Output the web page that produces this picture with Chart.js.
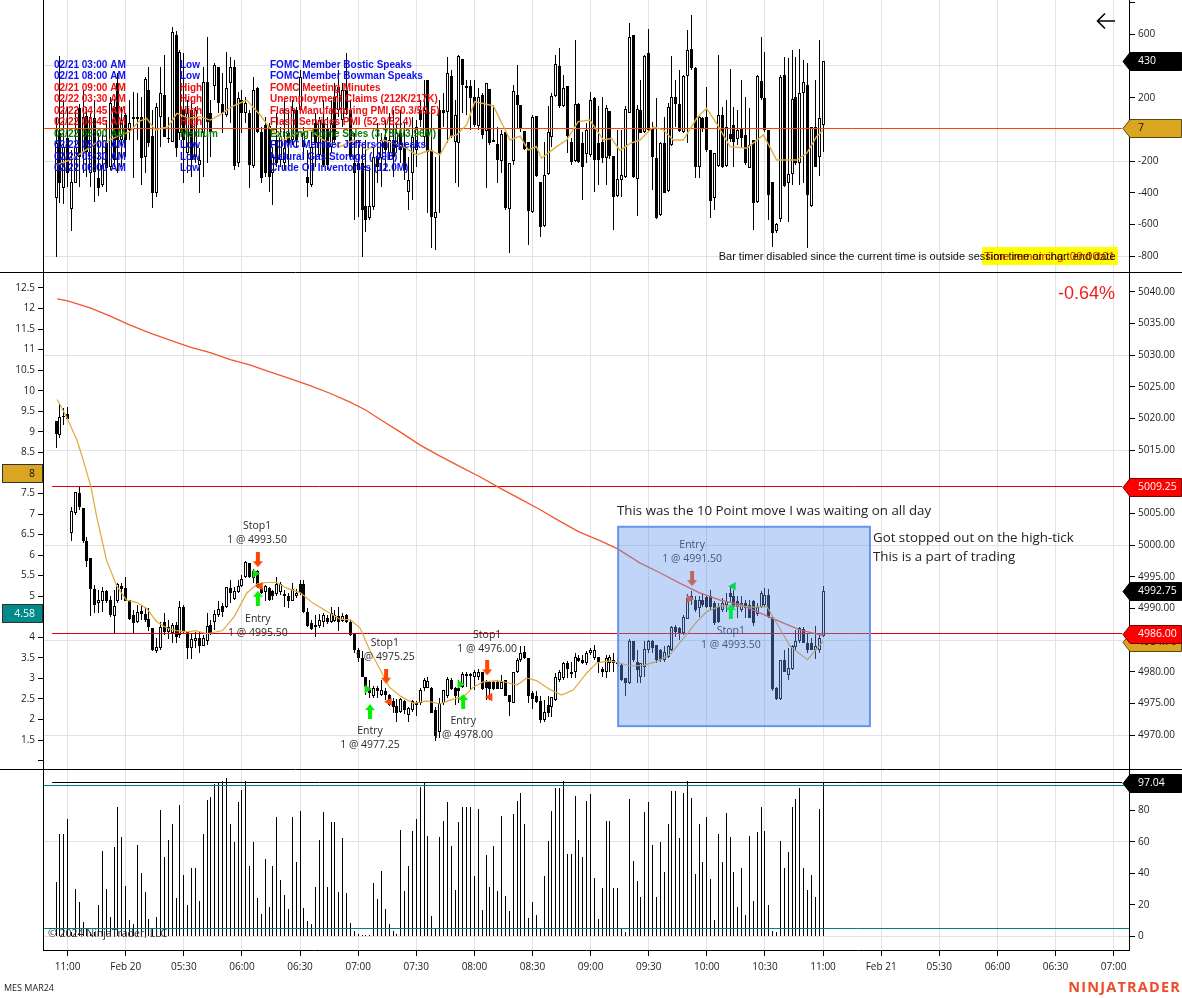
<!DOCTYPE html>
<html><head><meta charset="utf-8"><title>MES MAR24</title>
<style>
html,body{margin:0;padding:0;background:#fff;overflow:hidden}
canvas{position:absolute;left:0;display:block}
</style>
<script src="https://cdn.jsdelivr.net/npm/chart.js@4/dist/chart.umd.min.js"></script>
</head><body>
<canvas id="top" width="1182" height="273" style="top:0"></canvas>
<canvas id="mid" width="1182" height="497" style="top:273px"></canvas>
<canvas id="bot" width="1182" height="228" style="top:770px"></canvas>
<script>
const tickLabels=['11:00','Feb 20','05:30','06:00','06:30','07:00','07:30','08:00','08:30','09:00','09:30','10:00','10:30','11:00','Feb 21','05:30','06:00','06:30','07:00'];
const firstTickBar=3, barsPerTick=15;

const topOpen=[-435,-25,-372,-56,-502,-336,133,-140,84,-277,70,-309,-351,-88,-235,143,291,-67,91,-4,
80,80,80,-172,248,-42,-403,80,217,-52,-77,595,-25,122,-151,122,-172,-225,-25,297,
101,274,396,158,91,291,396,-214,185,101,101,-231,259,-14,28,21,-277,-67,-193,-214,
-25,-67,122,122,-109,-298,-351,38,-161,38,7,-109,206,122,59,248,122,-214,-214,-214,
-483,-561,-487,-172,-182,-46,-151,-67,-109,-25,-109,-393,-277,-130,122,-46,312,-130,-561,122,
122,112,337,-77,-84,442,274,274,202,21,217,-8,253,-67,-94,-197,-14,-504,-197,217,
154,-8,-77,-523,84,-334,-609,-281,-46,211,400,148,274,-77,-197,160,-88,-155,-161,196,
-84,-77,-182,116,-168,-420,-319,-298,105,595,-315,122,-14,480,7,-182,-540,-88,-386,-98,
202,160,-14,337,505,385,-239,70,80,-130,-435,-231,91,-231,-31,28,-63,7,-35,-241,
-67,-456,307,196,-4,-330,-639,-567,343,-340,-281,202,-214,227,280,-481,13,-172,28];
const topHigh=[80,463,185,143,-130,122,160,248,143,101,185,-25,-35,59,206,185,354,143,101,185,
238,227,206,328,396,122,164,396,469,80,644,623,501,480,185,185,143,-119,396,581,
185,417,396,354,490,459,438,238,248,206,122,333,270,17,80,38,-109,101,17,185,
122,185,143,375,17,-130,-4,101,80,185,80,185,291,375,291,480,185,-25,-67,-88,
-67,-235,-109,38,-25,59,101,122,38,122,38,-172,80,59,185,312,312,143,-172,185,
227,459,375,185,469,442,312,312,312,259,232,291,253,154,17,-4,-14,-214,280,406,
154,-8,-77,91,84,-334,-77,148,227,469,511,343,274,-56,564,164,-14,38,238,206,
148,206,154,116,-168,-4,-4,148,673,595,154,312,469,631,49,196,-77,80,164,463,
312,375,343,627,721,396,91,80,270,-130,-147,469,143,185,379,143,122,312,206,133,
-67,343,581,490,-4,-330,-592,343,459,448,501,459,505,438,417,17,312,564,430];
const topLow=[-807,-466,-470,-361,-639,-340,-361,-277,-298,-361,-460,-418,-361,-393,-256,-235,-277,-235,-172,-67,
-309,-67,-351,-277,-109,-498,-424,-109,-50,-88,-77,-172,-67,-340,-277,-298,-214,-403,-298,-214,
-172,185,101,-25,80,38,-256,-235,-25,38,-372,-246,-25,-340,-298,-393,-477,-235,-235,-256,
-235,-98,-109,101,-193,-424,-361,-235,-193,-235,-256,-151,-88,80,17,91,-193,-571,-550,-807,
-649,-571,-508,-340,-361,-256,-193,-298,-151,-214,-319,-508,-445,-235,17,-109,-529,-750,-761,-529,
17,-88,-56,-340,-361,101,91,-4,17,-4,-63,-372,-98,-77,-340,-273,-508,-777,-225,7,
-14,-130,-729,-529,-298,-676,-613,-288,-109,206,133,139,-151,-225,-203,-214,-445,-214,-172,-393,
-351,-214,-351,-189,-634,-424,-424,-309,101,-309,-546,-25,-25,-14,-382,-567,-546,-403,-393,-105,
17,-14,-25,-88,375,-309,-309,-14,-140,-561,-508,-235,-246,-235,-77,-235,-98,-119,-225,-246,
-634,-462,185,-14,-571,-740,-651,-582,-361,-582,-351,-225,-351,-340,-750,-487,-239,-294,-140];
const topClose=[-88,-336,-109,-277,-330,-109,-172,80,-140,80,-267,-372,-225,-246,164,-193,-67,59,-67,38,
63,63,-182,318,-88,-403,143,227,-46,-63,612,-119,490,-67,101,-193,122,-193,301,49,
-14,406,164,101,259,391,-229,196,101,164,-225,248,-14,-304,-277,-298,-172,-214,-46,-119,
-88,122,-67,333,-25,-340,-109,-88,59,-225,-225,38,-67,270,248,122,-172,-277,-256,-508,
-571,-483,-172,-235,-67,-130,-67,-172,-25,-130,-256,-319,-46,17,59,122,-140,-550,-519,-151,
106,354,-42,91,465,280,263,200,28,202,-35,291,-88,-77,-193,-29,-498,-214,244,154,
7,-126,-512,80,-294,-613,-288,-18,211,410,148,259,-42,-203,160,-203,-235,-4,185,-193,
-193,-182,133,-168,-424,-315,-288,126,581,-302,126,-21,463,-4,-172,-561,-88,-399,143,202,
160,-8,337,501,385,-239,80,7,-130,-449,-151,91,-235,17,-63,-77,-4,-56,-214,-98,
-462,337,196,-4,-414,-651,-597,328,-357,-281,192,-214,232,297,-414,17,-235,70,430];
const topSmaBars=[0,3.6,7.1,10.1,13.1,15.7,19.1,21.3,23.4,25.6,29,31.2,34.2,37.2,39.8,42.3,45.4,49.2,52.7,55.2,58.7,62.1,65.6,69,73.3,76.8,80.2,84.5,89.7,93.1,96.6,
99.1,101.7,103.4,106,108.1,112.9,117.2,119.8,121.9,124,125.3,129.2,131.8,134.8,137.8,141.3,143.4,145.6,148.2,150.7,154.2,156.8,159.3,161.9,165.4,167.9,170.5,174,178.3,182.6,186,189,191.2,193.8,196.3,198];
const topSmaValues=[-225,-193,-140,-88,-77,-46,-14,49,70,-4,17,101,70,80,59,91,143,185,91,7,-67,-25,-4,-67,-109,-67,-130,-67,-109,-161,-130,
-161,-46,-35,28,175,148,-67,-42,-130,-109,-182,-109,-67,49,59,-67,-56,-134,-88,-67,17,-4,-67,-67,70,133,38,-109,-119,-35,-193,-193,-193,-151,-46,-4];

const priceOpen=[5019.6,5017.4,5020.2,5020.7,5001.9,5005.1,5008.2,5005.8,5000.7,4997.9,
4993.1,4990.8,4991.2,4992.7,4991.3,4988.8,4991.2,4993.6,4993.2,4991.3,
4989,4987.8,4989.6,4989.1,4988.3,4986.9,4983.3,4983.7,4987.8,4986.3,
4986.1,4987.4,4985.8,4990.3,4986.3,4983.8,4984.8,4985.4,4984.1,4984.9,
4987.4,4987.8,4988.9,4990.4,4990.3,4993.3,4991.5,4992.6,4993.6,4994.9,
4997.2,4995.9,4995.9,4993.2,4992.6,4993.3,4992.7,4992.3,4992.6,4992.3,
4992,4991.2,4991.9,4993.9,4993.9,4989.5,4987.7,4987.4,4987.2,4987.8,
4988.5,4987.8,4988,4988.8,4988,4989,4987.8,4986.1,4983.5,4982.1,
4979.2,4977.5,4976.2,4977.4,4976.3,4977,4976.3,4975.3,4974.6,4973.6,
4975.3,4973.2,4974,4975,4975,4977.4,4977.5,4977.5,4974,4970.5,
4975,4976.1,4978.7,4977.4,4977.4,4977.6,4979.3,4979.4,4979.1,4979.2,
4980,4978.4,4978.3,4978.4,4978.4,4977.3,4978.7,4976.3,4975.1,4979.9,
4981.8,4983.1,4982.1,4976.6,4976.2,4975.4,4972.3,4974.7,4974.5,4975.5,
4978.7,4979,4981.4,4979.7,4980,4982.1,4981.9,4981.3,4983,4982.1,
4982.4,4980.4,4980,4981.3,4981.9,4981.6,4981.1,4979,4978.2,4984.8,
4981.6,4979.2,4980.8,4983.4,4984.8,4984.2,4983.4,4981.9,4982.4,4983.4,
4987,4986.9,4986.1,4988.4,4991.3,4991.4,4990,4991.3,4991.8,4992,
4990.8,4990.3,4989.8,4990.5,4992.4,4991.9,4991.1,4989.8,4990.8,4990.6,
4991.1,4989.1,4990.3,4990.5,4992.1,4988.6,4977.5,4975.7,4981.8,4979.5,
4980.4,4983.9,4984.8,4986.7,4984.6,4984.5,4983.5,4983.5,4985.7];
const priceHigh=[5019.6,5022.4,5021.6,5021.9,5006.1,5008.4,5009.4,5005.8,5001.3,4997.9,
4993.7,4992.9,4993.4,4992.9,4992,4992.9,4994,4994,4994.9,4991.3,
4989.8,4990.5,4990.5,4990.3,4990,4986.9,4985.3,4987.9,4989.2,4988.2,
4987.7,4987.9,4991.2,4990.5,4986.3,4986.1,4986.3,4986.3,4985.8,4989.3,
4988.2,4989.8,4991.1,4990.8,4993.4,4994.5,4993.4,4994.5,4995.3,4997.5,
4997.2,4996.3,4996.1,4993.4,4993.7,4993.4,4992.9,4995,4994.2,4992.9,
4992.4,4994,4993.1,4994.5,4994.5,4990,4988.2,4989,4989.1,4989.2,
4989,4990.2,4989.8,4990.3,4989.2,4989.1,4988.2,4986.1,4983.7,4983.2,
4979.2,4978.7,4977.7,4977.7,4978.7,4977.4,4976.5,4975.8,4975.7,4975.8,
4975.5,4974.5,4975.5,4975.3,4977.4,4979,4979.2,4977.6,4974.5,4975.8,
4977.1,4979.2,4979,4977.6,4978.7,4979.9,4980,4979.8,4980.3,4980.5,
4980,4978.7,4978.6,4978.6,4978.7,4979.5,4978.7,4976.3,4980,4982.1,
4984,4984.1,4982.1,4976.9,4976.9,4976.1,4975.6,4976.1,4976,4979.8,
4980.3,4981.6,4981.7,4981.6,4982.9,4982.7,4982.7,4983.2,4983.7,4984.2,
4982.4,4980.8,4982.7,4982.7,4982.9,4982.1,4981.3,4979,4985.1,4984.8,
4983.4,4981.4,4984.8,4985,4985,4984.2,4983.6,4984,4984.2,4987.2,
4987.4,4987.1,4989,4992.3,4992.8,4991.9,4991.9,4992.4,4992.1,4992.9,
4991.1,4990.8,4991.6,4992.4,4993.5,4992.9,4991.9,4991.9,4991.3,4991.3,
4991.4,4990.8,4992.8,4993.2,4993,4988.7,4977.6,4981.9,4983.4,4983.7,
4984.2,4986.6,4987.1,4987,4986.1,4985.3,4987.2,4985.8,4993.5];
const priceLow=[5015.4,5016.9,5019,5019.7,5000.6,5004.8,5005.6,5000.3,4996.6,4988.8,
4989.2,4989.3,4989.5,4990.8,4988.7,4986.1,4990.8,4991.4,4991.1,4988.2,
4986.1,4987.7,4988.2,4987.9,4986.5,4983.3,4982.9,4983.4,4985.8,4985.1,
4984.5,4984.5,4985.3,4986.1,4982,4982,4983.7,4983,4984,4984.2,
4985.8,4986.6,4988.7,4988.7,4990,4990.8,4991.3,4992.4,4993.4,4994.8,
4994.8,4994,4993.2,4992.3,4991.1,4991.1,4991.3,4991.9,4992.1,4990.2,
4990,4991.1,4991.6,4992.1,4989.2,4987,4986.6,4985.5,4986.9,4987.1,
4987.5,4987.7,4987.8,4986.5,4987.8,4987.7,4985.6,4982.9,4981.6,4979.1,
4976.3,4975.8,4975.8,4975.8,4976.1,4975.5,4974.6,4973.4,4972.1,4973.4,
4973.3,4972.1,4973.7,4973,4974.8,4976.9,4977.4,4973.4,4969.1,4969.5,
4974.8,4975.8,4977.1,4974.8,4975,4977.4,4977.6,4977.1,4977.1,4978.7,
4977.1,4975.6,4975.5,4977.1,4977.2,4977.2,4976.1,4973,4975,4979.8,
4981.6,4982,4975,4974.1,4975,4971.9,4972.1,4972.9,4972.9,4975.4,
4978.4,4978.7,4979,4979,4979,4981.6,4981.2,4981,4982.7,4981.9,
4979.8,4979.2,4979,4980,4980,4980.8,4978.6,4976.2,4978.1,4981.6,
4978.2,4978.2,4979.2,4982.9,4982.9,4981.3,4981.6,4981.6,4982.1,4983.3,
4985.5,4985,4985.8,4988.3,4990.6,4989.5,4988.7,4990.3,4990,4989.8,
4987.4,4987.7,4989.5,4989.5,4990.8,4990,4988.5,4989.5,4988.5,4988.5,
4987.2,4988.8,4990,4990.3,4988.5,4976.9,4975.6,4975.5,4980,4978.7,
4980.3,4983.4,4984.5,4984.5,4982.9,4983.4,4982,4982.9,4985.5];
const priceClose=[5017.6,5020.2,5020.4,5019.9,5005.4,5008.4,5006.1,5000.6,4997.5,4993.1,
4990.6,4991.3,4992.8,4991.2,4989,4990.4,4993.9,4993.1,4991.2,4988.4,
4987.7,4989.5,4989.1,4988.2,4987.1,4983.4,4983.9,4987,4986.3,4987,
4987.4,4985.5,4990.2,4986.3,4983.8,4985.1,4985.3,4984.1,4985.4,4987.2,
4986.1,4989.1,4989.9,4989.5,4993.4,4992.5,4992.8,4993.6,4994.6,4997.4,
4995,4994.8,4993.4,4992.5,4993.6,4991.4,4991.9,4993.9,4993.8,4991.9,
4991.2,4993.1,4992.5,4992.4,4989.5,4987.2,4986.7,4987.1,4988.2,4989,
4987.8,4989.3,4989,4987.9,4988.8,4987.9,4985.8,4983.4,4982.1,4979.2,
4977.6,4976.6,4977.4,4976.9,4977.1,4976.3,4974.8,4974.5,4973.5,4975.7,
4974,4974.2,4975.3,4974.8,4977.1,4978.7,4978.6,4973.5,4969.8,4975,
4977.1,4978.8,4977.2,4976.1,4976.9,4979.7,4979.7,4979.6,4980,4980,
4977.2,4977.4,4977.2,4977.3,4977.3,4978.4,4976.2,4975.2,4979.9,4981.8,
4982.9,4982.1,4976.1,4975.7,4975.2,4972.3,4973.7,4973.5,4976,4979.1,
4979.9,4981.4,4980.5,4980,4982.3,4981.7,4981.3,4983,4983.5,4983.5,
4981.3,4979.9,4982.1,4982.4,4981.3,4981.2,4978.7,4978.2,4984.9,4981.8,
4980.3,4981.4,4983.6,4984.8,4983.7,4981.9,4981.9,4983.1,4984,4987,
4986.3,4986.1,4988.7,4991.6,4992,4989.8,4991.3,4990.5,4990.3,4990.3,
4987.7,4987.9,4990.8,4991.1,4991.8,4990.3,4990.3,4990.8,4990,4988.5,
4987.7,4990.3,4992.4,4992.1,4988.7,4977.3,4975.7,4981.9,4980,4980.6,
4984,4984.9,4986.9,4984.6,4983.4,4983.5,4984,4985.3,4992.75];
const fastSmaBars=[0.3,2.7,5.4,7,9,10.5,13,15.7,18.2,21,23.4,26,28.6,31,34,36,39,43,46,49.2,52,54.4,57,59.6,63,66.4,70,73.3,76,78.5,81,83.7,86,89,92.3,95.7,
99,101.7,105.2,107.8,110.3,113.8,116.4,119,121.5,124,127.5,130.5,133.5,137,139.6,143,146,148.2,151.6,155,158.5,162,165.4,168,171.5,175.7,180,183.5,186,189.5,194,198];
const fastSmaValues=[5023,5020.3,5016.6,5013.5,5009.25,5004.5,4997.7,4993.5,4991.3,4990.9,4990,4987.9,4986.9,4986.5,4986.3,4986.5,4986,4986.5,4988.7,4992.4,4993.9,4994.1,4994.1,4993.2,4992.5,4990.8,4989.5,4988.3,4988.2,4986.9,4983.4,4980.3,4977.6,4976.1,4975,4975.4,
4974.9,4975.5,4976.1,4977.6,4978.4,4978.6,4978.3,4977.9,4979,4978.6,4977.2,4976.3,4977.1,4979.8,4981.4,4981.7,4981.3,4980.9,4981,4981.6,4982.7,4985.3,4987.9,4989.5,4990.4,4990.4,4990.2,4990.3,4987.7,4984,4981.9,4984.8];
const slowSmaBars=[0.3,3,8.8,14,19,24.3,29.4,34.6,39.8,45,50,55,60.4,65.6,70.7,75.9,79.8,83.6,88.8,94,99,104.3,109.4,114.6,119.8,125,130,135,140.4,145,150.7,156,161,166,171.4,176.6,181.7,186.9,192,198];
const slowSmaValues=[5038.9,5038.6,5037.5,5036.2,5034.8,5033.5,5032.4,5031.3,5030.4,5029.3,5028.5,5027.4,5026.3,5025.2,5024,5022.6,5021.4,5019.9,5017.9,5015.8,5014.1,5012.4,5010.8,5009,5007.3,5005.6,5003.8,5002.1,5000.7,4999.4,4997.2,4995.6,4994,4992.5,4991.3,4990.6,4989.3,4987.9,4986.6,4985.7];
const volumes=[34.7,65,65,74.7,3,30,22,9,5,3,2.5,20,54,30,12.5,57,82,63,32,10.5,
8,58,40,28,11,4.5,12.5,80,50.5,61,71.5,24.5,83.6,39,20,43.6,43.6,22.6,65,86.8,
88.7,97,98.2,98.8,100.7,71.5,60,85.5,93,98.8,44.9,60,24.5,14.4,49.3,18.8,44.9,76,36,26.5,
17.6,76,47.4,79.8,18.2,10,8,31.5,61.4,79,31.5,72.8,72.8,28.4,62.6,27.7,8.7,3.6,1.7,0.6,
0.6,0.6,34,24,41.7,17.6,8,3.6,1.7,67.7,29,44.9,67,74.7,95,98.2,64,13,5.5,63,
73.4,85.5,57.6,29.6,72.8,82.3,82.3,82.3,38.5,81,17,51.9,31.5,57.6,29,76.6,25.8,16.3,77.9,86,
91,71.5,11.9,22,13.8,5,38.5,60.7,79.8,94.4,94.4,98.8,52.5,52.5,89.3,61.4,50.6,86,90.6,37.2,
11.2,30.9,73.4,73.4,30.9,30.9,5,3,87.4,48,35.3,25.2,79,85.5,58,25.2,60,41,71.5,92.5,
92.5,62.6,91,98.8,88,39.8,71.5,47.4,76,36.6,10.6,65,47.4,78.5,63.3,41,18.8,43.6,13.8,64,
22.6,66.5,82.3,67,20,3.6,3,60.7,43.6,53.8,82.3,87.4,94.4,43.6,29.6,39,25.2,81,97.04];

const entryBars=[51.4,80.3,104.3],entryPrices=[4995.5,4977.25,4978];
const entryBars2=[163.4],entryPrices2=[4991.5];
const stopBars=[52.7,86,112],stopPrices=[4993.5,4975.25,4976];
const stopBars2=[174.8],stopPrices2=[4993.5];
const downBars=[52.1,85.2,111.3,164.2],downPrices=[4997.7,4979.3,4980.6,4994.7];
const upBars=[52.1,81.05,105.1],upPrices=[4991.6,4973.7,4975.3];
const upBars2=[174.2],upPrices2=[4989.5];
const tradeTitles=['Stop1','Entry','Stop1','Entry','Stop1','Entry','Entry','Stop1'];
const tradeFills=['1 @ 4993.50','1 @ 4995.50','1 @ 4975.25','1 @ 4977.25','1 @ 4976.00','1 @ 4978.00','1 @ 4991.50','1 @ 4993.50'];
const tradeLabelBars=[51.9,52.1,84.9,81.05,111.3,105.1,164.2,174.2];
const tradeLabelPrices=[5003,4988.3,4984.6,4970.6,4985.8,4972.2,5000,4986.4];
const boxBars=[145.1,210.1],boxPrices=[5002.9,4971.4];

const newsDates=['02/21 03:00 AM','02/21 08:00 AM','02/21 09:00 AM','02/22 03:30 AM','02/22 04:45 AM','02/22 04:45 AM','02/22 05:00 AM','02/22 05:00 AM','02/22 05:30 AM','02/22 06:00 AM'];
const newsImpact=['Low','Low','High','High','High','High','Medium','Low','Low','Low'];
const newsTitles=['FOMC Member Bostic Speaks','FOMC Member Bowman Speaks','FOMC Meeting Minutes','Unemployment Claims (212K/217K)','Flash Manufacturing PMI (50.3/50.5)','Flash Services PMI (52.9/52.4)','Existing Home Sales (3.78M/3.96M)','FOMC Member Jefferson Speaks','Natural Gas Storage (-49B)','Crude Oil Inventories (12.0M)'];
const impactColors={Low:'#1010f0',High:'#f01010',Medium:'#0a7a0a'};

const UI='"Open Sans"', ARIAL='"Liberation Sans"';
const xMin=-3.356,xMax=276.97;
const HIDE_SPAN=[-1,275.2];

function snapBars(chart){
  chart.data.datasets.forEach((d,k)=>{
    const m=chart.getDatasetMeta(k);
    if(m.type==='bar'){m.data.forEach(el=>{
      el.x=Math.floor(el.x)+0.5;
      let y=Math.round(el.y),b=Math.round(el.base);
      if(y===b)y=b-1;
      el.y=y;el.base=b;
    });}
    if(d.snapLine){m.data.forEach(el=>{el.y=Math.floor(el.y)+0.5;});}
  });
}
function fixArea(chart){
  const h=chart.height,a=chart.chartArea;
  a.top=0;a.bottom=h;a.height=h;
  Object.values(chart.scales).forEach(s=>{
    if(!s.isHorizontal()){s.top=0;s.bottom=h;s.height=h;s.paddingTop=0;s.paddingBottom=0;s.configure();}
  });
}
function flagRight(ctx,chart,scale,value,label,bg,fg,bd){
  const y=Math.round(scale.getPixelForValue(value))+0.5;
  ctx.save();ctx.fillStyle=bg;ctx.strokeStyle=bd||bg;ctx.lineWidth=1;
  ctx.beginPath();ctx.moveTo(1123,y);ctx.lineTo(1130,y-9);ctx.lineTo(1181.5,y-9);ctx.lineTo(1181.5,y+9);ctx.lineTo(1130,y+9);ctx.closePath();ctx.fill();ctx.stroke();
  ctx.fillStyle=fg;ctx.font='10.5px '+UI;ctx.textBaseline='middle';ctx.textAlign='left';
  ctx.fillText(label,1138,y);ctx.restore();
}
function flagLeft(ctx,scale,value,label,bg,fg){
  const y=Math.round(scale.getPixelForValue(value));
  ctx.save();ctx.fillStyle=bg;ctx.strokeStyle='#333';ctx.lineWidth=1;
  ctx.fillRect(2.5,y-8.5,40,18);ctx.strokeRect(2.5,y-8.5,40,18);
  ctx.fillStyle=fg;ctx.font='10.5px '+UI;ctx.textAlign='right';ctx.textBaseline='middle';
  ctx.fillText(label,35,y+1);ctx.restore();
}
function frame(ctx,chart,drawTop,drawBottom){
  const a=chart.chartArea;
  ctx.save();ctx.strokeStyle='#000';ctx.lineWidth=1;ctx.beginPath();
  ctx.moveTo(Math.floor(a.left)+0.5,0);ctx.lineTo(Math.floor(a.left)+0.5,a.bottom);
  ctx.moveTo(Math.floor(a.right)+0.5,0);ctx.lineTo(Math.floor(a.right)+0.5,a.bottom);
  if(drawTop){ctx.moveTo(0,0.5);ctx.lineTo(chart.width,0.5);}
  if(drawBottom){ctx.moveTo(0,chart.height-0.5);ctx.lineTo(chart.width,chart.height-0.5);}
  ctx.stroke();ctx.restore();
}
function xAxis(visible){
  const ax={type:'linear',min:xMin,max:xMax,offset:false,
    afterBuildTicks:s=>{s.ticks=tickLabels.map((l,k)=>({value:firstTickBar+k*barsPerTick}));},
    grid:{display:true,color:'#e2e2e2',offset:false,drawTicks:visible,tickLength:6,tickColor:'#000'},
    border:{display:visible,color:'#000'},
    ticks:{display:visible,autoSkip:false,maxRotation:0,padding:5,color:'#1a1a1a',font:{family:UI,size:10},
      callback:v=>tickLabels[Math.round((v-firstTickBar)/barsPerTick)]},
    afterFit:s=>{s.height=visible?48:0;s.paddingLeft=0;s.paddingRight=0;s.paddingTop=0;s.paddingBottom=0;}};
  return ax;
}
function yRight(min,max,step,gridVals,fmt,skip,noTick){
  return {type:'linear',position:'right',min,max,
    ticks:{stepSize:step,includeBounds:false,padding:3,color:'#1a1a1a',font:{family:UI,size:10},
      callback:v=>(skip&&skip.includes(v))?'':fmt(v)},
    grid:{drawOnChartArea:true,tickLength:6,tickColor:c=>(noTick&&noTick.includes(c.tick.value))?'transparent':'#000',lineWidth:1,color:c=>gridVals.includes(c.tick.value)?'#e2e2e2':'transparent'},
    border:{display:true,color:'#000'},
    afterFit:s=>{s.width=53;s.paddingTop=0;s.paddingBottom=0;s.paddingLeft=0;s.paddingRight=0;}};
}
function candleSets(o,h,l,c,yID){
  const wick=h.map((v,i)=>({x:i,y:[l[i],v]}));
  const body=o.map((v,i)=>({x:i,y:[Math.min(v,c[i]),Math.max(v,c[i])]}));
  return [
   {type:'bar',label:'wick',yAxisID:yID,data:wick,backgroundColor:'#000',barThickness:1,borderWidth:0,inflateAmount:0,grouped:false,order:20},
   {type:'bar',label:'body',yAxisID:yID,data:body,backgroundColor:o.map((v,i)=>c[i]>v?'#fff':'#000'),borderColor:'#000',borderWidth:1,inflateAmount:0,borderSkipped:false,barThickness:3,grouped:false,order:19}
  ];
}
function pts(xs,ys){return xs.map((x,i)=>({x,y:ys[i]}));}
function lineSet(label,data,color,w,yID,order,extra){
  return Object.assign({type:'line',label,data,borderColor:color,borderWidth:w,pointRadius:0,tension:0,fill:false,yAxisID:yID,order},extra||{});
}
function hLine(label,value,span,color,yID,order){
  return lineSet(label,[{x:span[0],y:value},{x:span[1],y:value}],color,1,yID,order,{snapLine:true});
}
function arrowImage(color,up){
  const c=document.createElement('canvas');c.width=10;c.height=15;
  const g=c.getContext('2d');g.fillStyle=color;g.beginPath();
  if(up){g.moveTo(5,0);g.lineTo(10,6);g.lineTo(7,6);g.lineTo(7,15);g.lineTo(3,15);g.lineTo(3,6);g.lineTo(0,6);}
  else{g.moveTo(5,15);g.lineTo(10,9);g.lineTo(7,9);g.lineTo(7,0);g.lineTo(3,0);g.lineTo(3,9);g.lineTo(0,9);}
  g.closePath();g.fill();return c;
}
function markerSet(label,data,style,color,rot,order,r){
  return {type:'scatter',label,data,yAxisID:'y',showLine:false,pointStyle:style,pointRotation:rot,pointRadius:r||5,
    pointBackgroundColor:color,pointBorderColor:color,pointBorderWidth:0,order};
}
const commonOpts={responsive:false,animation:false,parsing:true,events:[],
  layout:{padding:0},plugins:{legend:{display:false},tooltip:{enabled:false},title:{display:false}}};

/* top panel */
new Chart(document.getElementById('top'),{type:'bar',
 data:{datasets:[...candleSets(topOpen,topHigh,topLow,topClose,'y'),
   hLine('zero line',7,[xMin,275.2],'#ff4500','y',8),
   lineSet('sma',pts(topSmaBars,topSmaValues),'#e0b040',1.4,'y',5)]},
 options:{...commonOpts,layout:{padding:{left:43}},
  scales:{x:xAxis(false),y:yRight(-905.6,816,200,[400,-200,-800],v=>String(v),[800])}},
 plugins:[{id:'topDecor',afterDatasetsUpdate:snapBars,
  afterDatasetsDraw(chart){
   const ctx=chart.ctx;ctx.save();
   ctx.textBaseline='middle';
   newsDates.forEach((d,i)=>{
     const y=65.2+i*11.5;
     ctx.fillStyle=impactColors[newsImpact[i]];
     ctx.font='bold 10px '+ARIAL;
     ctx.textAlign='left';
     ctx.fillText(d,54,y);ctx.fillText(newsImpact[i],180,y);ctx.fillText(newsTitles[i],270,y);
   });
   ctx.fillStyle='#ffff00';ctx.fillRect(982,247,136,18);
   ctx.textAlign='right';
   ctx.font='11.6px '+ARIAL;
   ctx.fillStyle='#f01010';ctx.fillText('Time remaining: 00:00:01',1115,256.5);
   ctx.font='11px '+ARIAL;
   ctx.fillStyle='#111';ctx.fillText('Bar timer disabled since the current time is outside session time or chart end date',1115.5,256.5);
   ctx.strokeStyle='#000';ctx.lineWidth=1.6;ctx.beginPath();
   ctx.moveTo(1115,21);ctx.lineTo(1098,21);ctx.moveTo(1105,13.5);ctx.lineTo(1097.5,21);ctx.lineTo(1105,28.5);ctx.stroke();
   ctx.restore();
  },
  afterDraw(chart){
   const ctx=chart.ctx,s=chart.scales.y;
   frame(ctx,chart,false,true);
   flagRight(ctx,chart,s,430,'430','#000','#fff');
   flagRight(ctx,chart,s,7,'7','#daa520','#111','#5a4a10');
  }}]
});

/* middle panel */
function drawTradeTextAndBox(chart){
  const ctx=chart.ctx,x=chart.scales.x,y=chart.scales.y;
  ctx.save();ctx.font='10.5px '+UI;ctx.fillStyle='#2a2a2a';ctx.textAlign='center';ctx.textBaseline='middle';
  tradeTitles.forEach((t,i)=>{
    const px=x.getPixelForValue(tradeLabelBars[i]),py=y.getPixelForValue(tradeLabelPrices[i]);
    ctx.fillText(t,px,py);ctx.fillText(tradeFills[i],px,py+14);
  });
  const l=x.getPixelForValue(boxBars[0]),r=x.getPixelForValue(boxBars[1]),t=y.getPixelForValue(boxPrices[0]),b=y.getPixelForValue(boxPrices[1]);
  ctx.fillStyle='rgba(100,149,237,0.4)';ctx.fillRect(l,t,r-l,b-t);
  ctx.strokeStyle='#6495ed';ctx.lineWidth=2;ctx.strokeRect(l,t,r-l,b-t);
  ctx.restore();
}
new Chart(document.getElementById('mid'),{type:'bar',
 data:{datasets:[...candleSets(priceOpen,priceHigh,priceLow,priceClose,'y'),
   lineSet('slow sma',pts(slowSmaBars,slowSmaValues),'#f4562a',1.3,'y',7),
   hLine('level high',5009.25,HIDE_SPAN,'#e00000','y',8),
   hLine('level low',4986,HIDE_SPAN,'#e00000','y',8),
   lineSet('fast sma',pts(fastSmaBars,fastSmaValues),'#e0a838',1.2,'y',6),
   markerSet('entries',pts(entryBars,entryPrices),'triangle','#10e010',90,4),
   markerSet('entries2',pts(entryBars2,entryPrices2),'triangle','#ff4500',90,4),
   markerSet('stops',pts(stopBars,stopPrices),'triangle','#ff4500',-90,4),
   markerSet('down',pts(downBars,downPrices),arrowImage('#ff4500',false),'#ff4500',0,4),
   markerSet('up',pts(upBars,upPrices),arrowImage('#00f000',true),'#00f000',0,4),
   Object.assign(markerSet('stops2',pts(stopBars2,stopPrices2),'triangle','#10d060',-90,2),{overBox:true}),
   markerSet('up2',pts(upBars2,upPrices2),arrowImage('#00e850',true),'#00e850',0,1)]},
 options:{...commonOpts,
  scales:{x:xAxis(false),
   y:yRight(4964.47,5043,5,[5030,5015,5000,4985,4970],v=>v.toFixed(2),[5010,4985,4965],[4965]),
   yL:{type:'linear',position:'left',min:0.77,max:12.865,
     ticks:{stepSize:0.5,includeBounds:false,padding:3,color:'#1a1a1a',font:{family:UI,size:10},callback:v=>(v===1||v===4.5)?'':String(v)},
     grid:{drawOnChartArea:false,tickLength:5,tickColor:'#000'},
     border:{display:true,color:'#000'},afterFit:s=>{s.width=43;s.paddingTop=0;s.paddingBottom=0;s.paddingLeft=0;s.paddingRight=0;}}}},
 plugins:[{id:'midDecor',afterLayout:fixArea,afterDatasetsUpdate:snapBars,
  beforeDatasetDraw(chart,args){
    if(chart.data.datasets[args.index].overBox){drawTradeTextAndBox(chart);}
  },
  afterDatasetsDraw(chart){
   const ctx=chart.ctx;ctx.save();ctx.textBaseline='middle';ctx.textAlign='left';ctx.fillStyle='#222';
   ctx.font='13.3px '+UI;
   ctx.fillText('This was the 10 Point move I was waiting on all day',617,511-273);
   ctx.fillText('Got stopped out on the high-tick',873,538-273);
   ctx.fillText('This is a part of trading',873,557-273);
   ctx.fillStyle='#f02020';ctx.font='18px '+ARIAL;ctx.textAlign='right';ctx.fillText('-0.64%',1115,294-273);
   ctx.restore();
  },
  afterDraw(chart){
   const ctx=chart.ctx,s=chart.scales.y,l=chart.scales.yL;
   frame(ctx,chart,false,true);
   flagRight(ctx,chart,s,4992.75,'4992.75','#000','#fff');
   flagRight(ctx,chart,s,5009.25,'5009.25','#ff0000','#fff','#800000');
   flagRight(ctx,chart,s,4984.7,'4984.70','#daa520','#111','#5a4a10');
   flagRight(ctx,chart,s,4986,'4986.00','#ff0000','#fff','#800000');
   flagLeft(ctx,l,8,'8','#daa520','#111');
   flagLeft(ctx,l,4.58,'4.58','#008b8b','#fff');
  }}]
});

/* volume panel */
new Chart(document.getElementById('bot'),{type:'bar',
 data:{datasets:[
   {type:'bar',label:'volume',data:volumes.map((v,i)=>({x:i,y:v})),backgroundColor:'#000',barThickness:1,borderWidth:0,inflateAmount:0,grouped:false,yAxisID:'y',order:10},
   hLine('max',97.6,HIDE_SPAN,'#000','y',5),
   hLine('upper',96,[xMin,xMax],'#008080','y',5),
   hLine('lower',4.8,[xMin,xMax],'#008080','y',5)]},
 options:{...commonOpts,layout:{padding:{left:43}},
  scales:{x:xAxis(true),y:yRight(-8.7,105.6,20,[60,0],v=>String(v),[100])}},
 plugins:[{id:'botDecor',afterDatasetsUpdate:snapBars,
  afterDatasetsDraw(chart){
   const ctx=chart.ctx;ctx.save();ctx.textBaseline='middle';ctx.textAlign='left';
   ctx.fillStyle='#333';ctx.font='10.5px '+UI;ctx.fillText('© 2024 NinjaTrader, LLC',48,934-770);
   ctx.restore();
  },
  afterDraw(chart){
   const ctx=chart.ctx,s=chart.scales.y;
   frame(ctx,chart,false,false);
   flagRight(ctx,chart,s,97.04,'97.04','#000','#fff');
   ctx.save();ctx.textBaseline='middle';
   ctx.fillStyle='#222';ctx.font='9px '+UI;ctx.textAlign='left';ctx.fillText('MES MAR24',4,988-770);
   ctx.fillStyle='#ee4b2b';ctx.font='bold 14.5px '+UI;ctx.textAlign='right';ctx.letterSpacing='1.2px';ctx.fillText('NINJATRADER',1181,988-770);
   ctx.restore();
  }}]
});
</script>
</body></html>
